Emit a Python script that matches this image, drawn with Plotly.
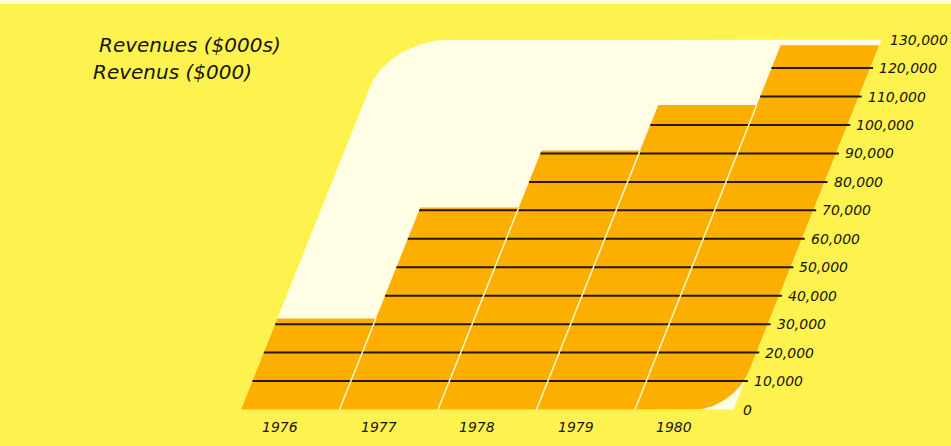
import plotly.graph_objects as go

# ---------------- data ----------------
years = ["1976", "1977", "1978", "1979", "1980"]
revenues = [32000, 71000, 91000, 107000, 128000]
tick_values = list(range(0, 130001, 10000))
tick_labels = [f"{v:,}" for v in tick_values]
title_lines = ["Revenues ($000s)", "Revenus ($000)"]

# ---------------- styling / geometry ----------------
W, H = 951, 446
SLOT_PX = 98.5          # width of one year slot in pixels
X0_PX = 241             # pixel x of slot 0 at value 0
Y0_PX = 409.5           # pixel y of value 0
PX_PER_UNIT = 0.002845  # vertical pixels per value unit
SHEAR = 0.40            # horizontal px per vertical px
K = SHEAR * PX_PER_UNIT / SLOT_PX   # slot shift per value unit

BG = "#FEF24E"
ORANGE = "#FDAF00"
CREAM = "#FFFDE4"
GRID = "#251904"
DIVIDER = "#FFF6CF"
TEXT = "#17140a"
FONT = "DejaVu Sans"

xr = [-X0_PX / SLOT_PX, (W - X0_PX) / SLOT_PX]
yr = [-(H - Y0_PX) / PX_PER_UNIT, Y0_PX / PX_PER_UNIT]


def sx(slot, v):
    return slot + K * v


def px2slot(px):
    return px / SLOT_PX


def px2val(px):
    return px / PX_PER_UNIT


def bezier(p0, c, p3, n=24):
    c1 = (p0[0] + 0.552 * (c[0] - p0[0]), p0[1] + 0.552 * (c[1] - p0[1]))
    c2 = (p3[0] + 0.552 * (c[0] - p3[0]), p3[1] + 0.552 * (c[1] - p3[1]))
    pts = []
    for i in range(n + 1):
        t = i / n
        a, b, cc, d = (1 - t) ** 3, 3 * (1 - t) ** 2 * t, 3 * (1 - t) * t ** 2, t ** 3
        pts.append((a * p0[0] + b * c1[0] + cc * c2[0] + d * p3[0],
                    a * p0[1] + b * c1[1] + cc * c2[1] + d * p3[1]))
    return pts


n = len(years)
T = tick_values[-1]
fig = go.Figure()

# cream backdrop (sheared panel with rounded top-left corner)
a_top = px2slot(60)
b_left = px2val(46)
corner = bezier((sx(0, T) + a_top, T), (sx(0, T), T), (sx(0, T - b_left), T - b_left))
cx = [sx(0, 0), sx(n, 0), sx(n, T)] + [p[0] for p in corner] + [sx(0, 0)]
cy = [0, 0, T] + [p[1] for p in corner] + [0]
fig.add_trace(go.Scatter(x=cx, y=cy, fill="toself", fillcolor=CREAM, mode="lines",
                         line=dict(width=0, color=CREAM), hoverinfo="skip", showlegend=False))

# bars
a_br = px2slot(38.5)
b_br = px2val(38)
for i, h in enumerate(revenues):
    if i == n - 1:
        rc = bezier((i + 1 - a_br, 0), (i + 1, 0), (sx(i + 1, b_br), b_br))
        bx = [sx(i, 0)] + [p[0] for p in rc] + [sx(i + 1, h), sx(i, h), sx(i, 0)]
        by = [0] + [p[1] for p in rc] + [h, h, 0]
    else:
        bx = [sx(i, 0), sx(i + 1, 0), sx(i + 1, h), sx(i, h), sx(i, 0)]
        by = [0, 0, h, h, 0]
    fig.add_trace(go.Scatter(x=bx, y=by, fill="toself", fillcolor=ORANGE, mode="lines",
                             line=dict(width=0, color=ORANGE), hoverinfo="skip",
                             showlegend=False, name=years[i]))

# gridlines across the bars, extending slightly past the right edge
gx, gy = [], []
ext = px2slot(3)
for v in tick_values[1:-1]:
    j = next((idx for idx, h in enumerate(revenues) if h > v), None)
    if j is None:
        continue
    gx += [sx(j, v), sx(n, v) + ext, None]
    gy += [v, v, None]
fig.add_trace(go.Scatter(x=gx, y=gy, mode="lines", line=dict(color=GRID, width=2),
                         hoverinfo="skip", showlegend=False))

# white dividers between bars
dx, dy = [], []
for i in range(1, n):
    top = min(revenues[i - 1], revenues[i])
    dx += [sx(i, 0), sx(i, top), None]
    dy += [0, top, None]
fig.add_trace(go.Scatter(x=dx, y=dy, mode="lines", line=dict(color=DIVIDER, width=1.5),
                         hoverinfo="skip", showlegend=False))

annotations = []
# value labels along the sheared right axis
for v, lab in zip(tick_values, tick_labels):
    annotations.append(dict(x=sx(n, v) + px2slot(7), y=v, text=lab, xref="x", yref="y",
                            xanchor="left", yanchor="middle", showarrow=False,
                            font=dict(family=FONT, size=14, color=TEXT, style="italic")))
# year labels under each bar
yl = -px2val(17)
for i, yr_lab in enumerate(years):
    annotations.append(dict(x=sx(i + 0.5, yl) - px2slot(3), y=yl, text=yr_lab, xref="x", yref="y",
                            xanchor="center", yanchor="middle", showarrow=False,
                            font=dict(family=FONT, size=14, color=TEXT, style="italic")))
# bilingual title
for txt, xp, yp in zip(title_lines, [97, 91], [45, 72]):
    annotations.append(dict(x=xp / W, y=1 - yp / H, text=txt, xref="paper", yref="paper",
                            xanchor="left", yanchor="middle", showarrow=False,
                            font=dict(family=FONT, size=20, color=TEXT, style="italic")))

fig.update_layout(
    width=W, height=H, autosize=False,
    margin=dict(l=0, r=0, t=0, b=0, pad=0),
    paper_bgcolor=BG, plot_bgcolor=BG,
    xaxis=dict(range=xr, visible=False, fixedrange=True),
    yaxis=dict(range=yr, visible=False, fixedrange=True),
    annotations=annotations,
    shapes=[dict(type="rect", xref="paper", yref="paper", x0=0, x1=1, y0=1 - 4 / H, y1=1,
                 fillcolor="#FFFBD8", line=dict(width=0), layer="above")],
    showlegend=False,
)

fig.write_html("out.html")
